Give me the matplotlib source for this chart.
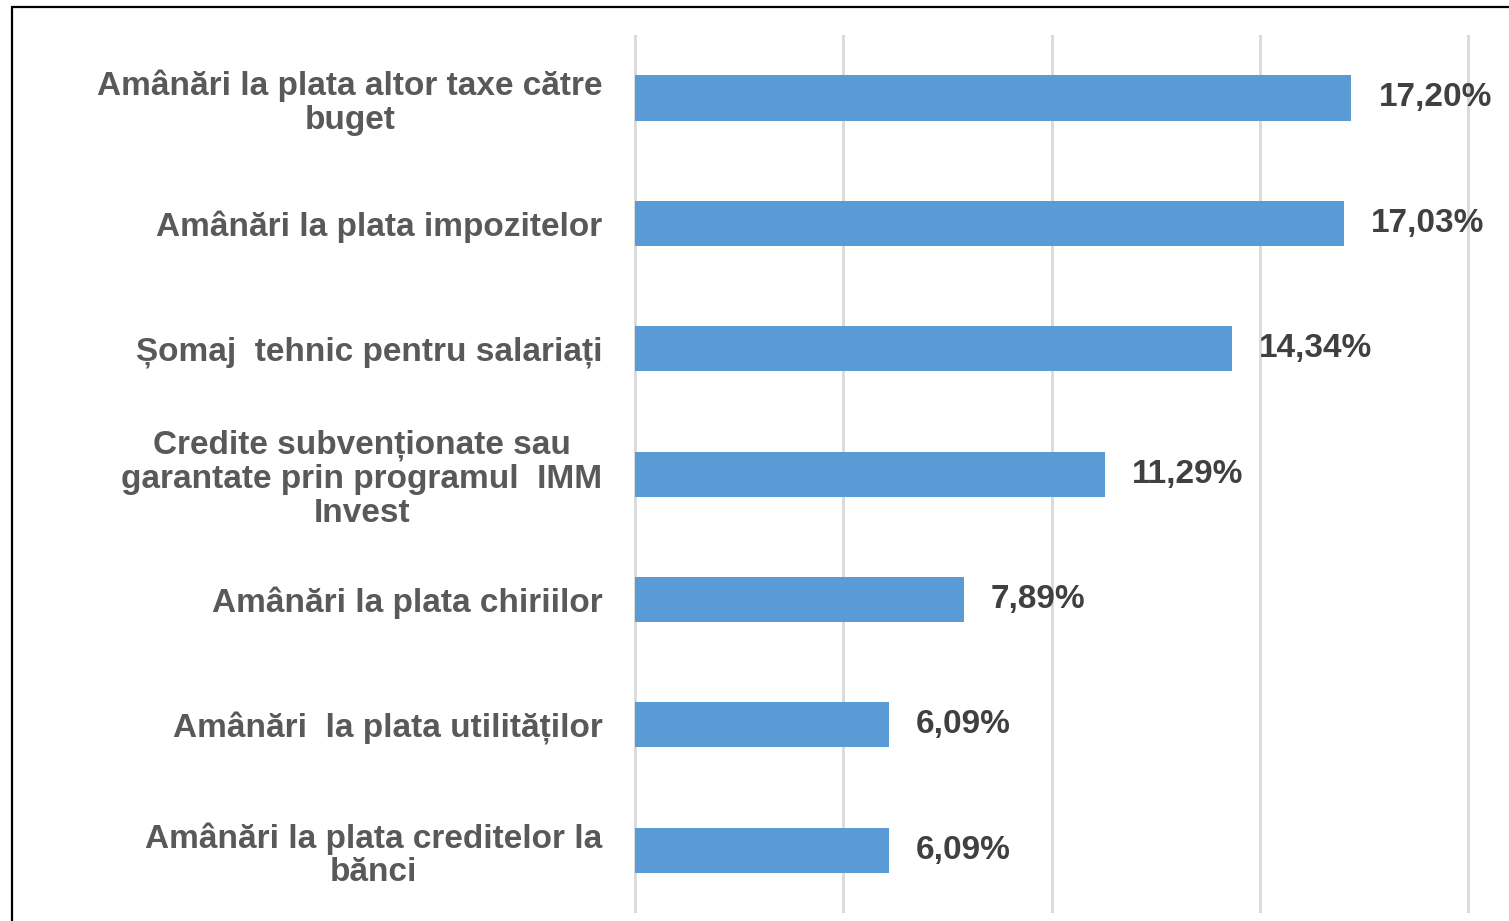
import matplotlib.pyplot as plt
from matplotlib.patches import Rectangle

categories = [
    "Amânări la plata altor taxe către\nbuget",
    "Amânări la plata impozitelor",
    "Șomaj  tehnic pentru salariați",
    "Credite subvenționate sau\ngarantate prin programul  IMM\nInvest",
    "Amânări la plata chiriilor",
    "Amânări  la plata utilităților",
    "Amânări la plata creditelor la\nbănci",
]
values = [17.20, 17.03, 14.34, 11.29, 7.89, 6.09, 6.09]
value_labels = ["17,20%", "17,03%", "14,34%", "11,29%", "7,89%", "6,09%", "6,09%"]

plt.rcParams['font.family'] = ['Liberation Sans', 'DejaVu Sans']

fig = plt.figure(figsize=(15.09, 9.21), dpi=100)
ax = fig.add_axes([0.4195, 0.0087, 0.5547, 0.953])

pos = list(range(len(categories)))
ax.barh(pos, values, height=0.36, color='#5B9BD5', zorder=3)
ax.set_ylim(len(categories) - 0.5, -0.5)
ax.set_xlim(-0.05, 20.05)
ax.set_xticks([0, 5, 10, 15, 20])
ax.xaxis.grid(True, color='#D9D9D9', linewidth=2, zorder=0)
ax.tick_params(axis='x', length=0, labelbottom=False)
ax.tick_params(axis='y', length=0, pad=22)
ax.set_yticks(pos)
ax.set_yticklabels(categories, fontsize=24, fontweight='bold', color='#595959',
                   multialignment='center', linespacing=1.12)
for side in ax.spines.values():
    side.set_visible(False)

for p, v, lab in zip(pos, values, value_labels):
    ax.annotate(lab, (v, p), xytext=(27, 0), textcoords='offset pixels',
                va='center', ha='left', fontsize=24, fontweight='bold',
                color='#404040')

fig.patches.append(Rectangle((12 / 1509, -0.01), 1.0, 1 - 7 / 921 + 0.01,
                             transform=fig.transFigure, fill=False,
                             edgecolor='black', linewidth=1.6))

fig.savefig('out.png', dpi=100)
